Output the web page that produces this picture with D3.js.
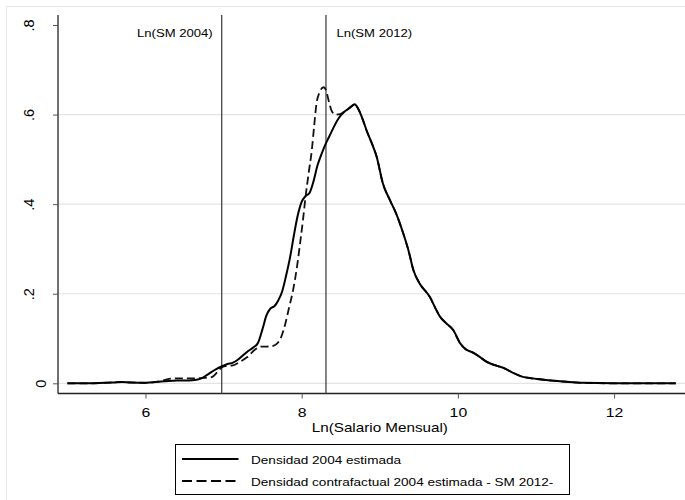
<!DOCTYPE html>
<html>
<head>
<meta charset="utf-8">
<script src="https://cdn.jsdelivr.net/npm/d3@7"></script>
<style>
  body { margin: 0; background: #fff; }
  text { font-family: "Liberation Sans", Arial, sans-serif; fill: #000; }
</style>
</head>
<body>
<div id="chart"></div>
<script>
const width = 685;
const height = 500;
const stretch = 1.17; // text in the original is a bit wide

// Densidad 2004 estimada
const solidX = [5.0, 5.3, 5.6, 5.7, 5.8, 6.0, 6.2, 6.4, 6.6, 6.7, 6.8, 6.9, 6.98, 7.05, 7.12, 7.2, 7.3, 7.38, 7.44, 7.5,
  7.55, 7.6, 7.65, 7.7, 7.75, 7.8, 7.85, 7.9, 7.95, 8.0, 8.05, 8.1, 8.15, 8.2, 8.25, 8.3, 8.35, 8.4, 8.45, 8.5,
  8.55, 8.6, 8.65, 8.68, 8.72, 8.78, 8.83, 8.9, 8.96, 9.04, 9.13, 9.21, 9.3, 9.37, 9.43, 9.51, 9.64, 9.72, 9.77, 9.85,
  9.94, 10.03, 10.1, 10.2, 10.28, 10.35, 10.43, 10.5, 10.6, 10.7, 10.82, 10.95, 11.05, 11.2, 11.35, 11.6, 12.0, 12.4, 12.79];
const solidY = [0, 0, 0.002, 0.003, 0.002, 0.001, 0.004, 0.006, 0.007, 0.010, 0.020, 0.031, 0.038, 0.043, 0.046, 0.055, 0.070, 0.080, 0.090, 0.122,
  0.152, 0.167, 0.172, 0.185, 0.205, 0.24, 0.28, 0.33, 0.375, 0.405, 0.418, 0.425, 0.45, 0.485, 0.51, 0.532, 0.55, 0.568, 0.585, 0.598,
  0.607, 0.613, 0.620, 0.623, 0.614, 0.59, 0.565, 0.535, 0.506, 0.446, 0.409, 0.379, 0.335, 0.295, 0.253, 0.223, 0.193, 0.165, 0.149, 0.134,
  0.119, 0.089, 0.076, 0.068, 0.059, 0.050, 0.043, 0.039, 0.033, 0.024, 0.015, 0.011, 0.009, 0.006, 0.004, 0.001, 0, 0, 0];

// Densidad contrafactual 2004 estimada - SM 2012-
const dashX = [5.0, 5.3, 5.6, 5.7, 5.8, 6.0, 6.2, 6.3, 6.4, 6.5, 6.6, 6.75, 6.85, 6.92, 6.98, 7.05, 7.12, 7.2, 7.3, 7.4,
  7.48, 7.55, 7.62, 7.68, 7.73, 7.78, 7.84, 7.89, 7.94, 7.98, 8.02, 8.05, 8.09, 8.13, 8.16, 8.19, 8.23, 8.28, 8.31, 8.35,
  8.38, 8.43, 8.49, 8.55, 8.6, 8.65, 8.68, 8.72, 8.78, 8.83, 8.9, 8.96, 9.04, 9.13, 9.21, 9.3, 9.37, 9.43, 9.51, 9.64,
  9.72, 9.77, 9.85, 9.94, 10.03, 10.1, 10.2, 10.28, 10.35, 10.43, 10.5, 10.6, 10.7, 10.82, 10.95, 11.05, 11.2, 11.35, 11.6, 12.0,
  12.4, 12.79];
const dashY = [0, 0, 0.002, 0.003, 0.002, 0.001, 0.005, 0.010, 0.011, 0.011, 0.011, 0.012, 0.014, 0.025, 0.036, 0.039, 0.040, 0.047, 0.058, 0.075,
  0.082, 0.082, 0.083, 0.088, 0.100, 0.126, 0.170, 0.208, 0.260, 0.313, 0.370, 0.417, 0.470, 0.521, 0.575, 0.625, 0.650, 0.661, 0.655, 0.628,
  0.610, 0.600, 0.601, 0.607, 0.613, 0.620, 0.623, 0.614, 0.59, 0.565, 0.535, 0.506, 0.446, 0.409, 0.379, 0.335, 0.295, 0.253, 0.223, 0.193,
  0.165, 0.149, 0.134, 0.119, 0.089, 0.076, 0.068, 0.059, 0.050, 0.043, 0.039, 0.033, 0.024, 0.015, 0.011, 0.009, 0.006, 0.004, 0.001, 0,
  0, 0];

const xTicks = [6, 8, 10, 12];
const yTicks = [0, 0.2, 0.4, 0.6, 0.8];
const yGrid = [0, 0.2, 0.4, 0.6];
const refLines = [6.976, 8.311];
const refLabels = ["Ln(SM 2004)", "Ln(SM 2012)"];
const legendLabels = ["Densidad 2004 estimada", "Densidad contrafactual 2004 estimada - SM 2012-"];
const xTitle = "Ln(Salario Mensual)";

const plotTop = 15, plotBottom = 393.5, plotLeft = 58, plotRight = 685;

const x = d3.scaleLinear().domain([4.88, 12.908]).range([plotLeft, plotRight]);
const y = d3.scaleLinear().domain([0, 0.8]).range([383.3, 25]);

const svg = d3.select("#chart")
  .append("svg")
    .attr("width", width)
    .attr("height", height);

function widen(sel) {
  sel.each(function() {
    const len = this.getComputedTextLength();
    d3.select(this)
      .attr("textLength", len * stretch)
      .attr("lengthAdjust", "spacingAndGlyphs");
  });
}

// faint outer frame
svg.append("rect")
  .attr("x", 6.5).attr("y", 6.5)
  .attr("width", 700).attr("height", 520)
  .attr("fill", "none")
  .attr("stroke", "#e6e6e6");

// gridlines
svg.append("g").selectAll("line")
  .data(yGrid)
  .enter().append("line")
    .attr("x1", plotLeft).attr("x2", plotRight)
    .attr("y1", d => y(d)).attr("y2", d => y(d))
    .attr("stroke", "#e4e4e4")
    .attr("stroke-width", 1.2);

// y axis
const yAxis = svg.append("g")
  .attr("transform", `translate(${plotLeft},0)`)
  .call(d3.axisLeft(y).tickValues(yTicks).tickSize(5).tickFormat(d => d === 0 ? "0" : d3.format(".1f")(d).replace(/^0/, "")));
yAxis.select(".domain")
  .attr("d", `M0,${plotTop}V${plotBottom}`)
  .attr("stroke", "#222").attr("stroke-width", 1.3);
yAxis.selectAll(".tick line").attr("stroke", "#555");
yAxis.selectAll(".tick text")
  .attr("font-size", 14.5)
  .attr("font-family", "Liberation Sans, Arial, sans-serif")
  .attr("text-anchor", "middle")
  .attr("x", null).attr("dy", null)
  .attr("transform", d => `translate(${d === 0 ? -12 : -24.5},0) rotate(-90)`);

// x axis
const xAxis = svg.append("g")
  .attr("transform", `translate(0,${plotBottom})`)
  .call(d3.axisBottom(x).tickValues(xTicks).tickSize(5).tickFormat(d3.format("d")));
xAxis.select(".domain")
  .attr("d", `M${plotLeft},0H${plotRight}`)
  .attr("stroke", "#222").attr("stroke-width", 1.3);
xAxis.selectAll(".tick line").attr("stroke", "#555");
xAxis.selectAll(".tick text")
  .attr("font-size", 13.5)
  .attr("font-family", "Liberation Sans, Arial, sans-serif")
  .attr("y", 23).attr("dy", null)
  .call(widen);

svg.append("text")
  .attr("x", x(8.0) + (x(10) - x(8)) / 2 - 68)
  .attr("y", 431.5)
  .attr("font-size", 13)
  .text(xTitle)
  .call(widen);

// reference lines
svg.append("g").selectAll("line")
  .data(refLines)
  .enter().append("line")
    .attr("x1", d => x(d)).attr("x2", d => x(d))
    .attr("y1", plotTop).attr("y2", plotBottom)
    .attr("stroke", "#444")
    .attr("stroke-width", 1.3);

svg.append("g").selectAll("text")
  .data(refLabels)
  .enter().append("text")
    .attr("font-size", 11.2)
    .attr("y", 36.5)
    .text(d => d)
    .call(widen)
    .attr("x", function(d, i) {
      const w = +this.getAttribute("textLength");
      return i === 0 ? x(refLines[0]) - 9 - w : x(refLines[1]) + 10.5;
    });

// density curves
const line = d3.line()
  .x(d => x(d[0]))
  .y(d => y(d[1]))
  .curve(d3.curveMonotoneX);

svg.append("path")
  .datum(d3.zip(dashX, dashY))
  .attr("fill", "none")
  .attr("stroke", "#111")
  .attr("stroke-width", 1.8)
  .attr("stroke-dasharray", "8,4")
  .attr("d", line);

svg.append("path")
  .datum(d3.zip(solidX, solidY))
  .attr("fill", "none")
  .attr("stroke", "#000")
  .attr("stroke-width", 2)
  .attr("d", line);

// legend
const legend = svg.append("g");
legend.append("rect")
  .attr("x", 175.5).attr("y", 444.5)
  .attr("width", 394).attr("height", 50)
  .attr("fill", "#fff")
  .attr("stroke", "#000")
  .attr("stroke-width", 1);

const item = legend.selectAll(".item")
  .data(legendLabels)
  .enter().append("g")
    .attr("class", "item")
    .attr("transform", (d, i) => `translate(0,${459 + i * 22})`);

item.append("line")
  .attr("x1", 182).attr("x2", 238.5)
  .attr("stroke", "#000")
  .attr("stroke-width", 1.8)
  .attr("stroke-dasharray", (d, i) => i === 0 ? null : "10,4.5");

item.append("text")
  .attr("x", 251)
  .attr("y", 4.5)
  .attr("font-size", 11.6)
  .text(d => d)
  .call(widen);
</script>
</body>
</html>
